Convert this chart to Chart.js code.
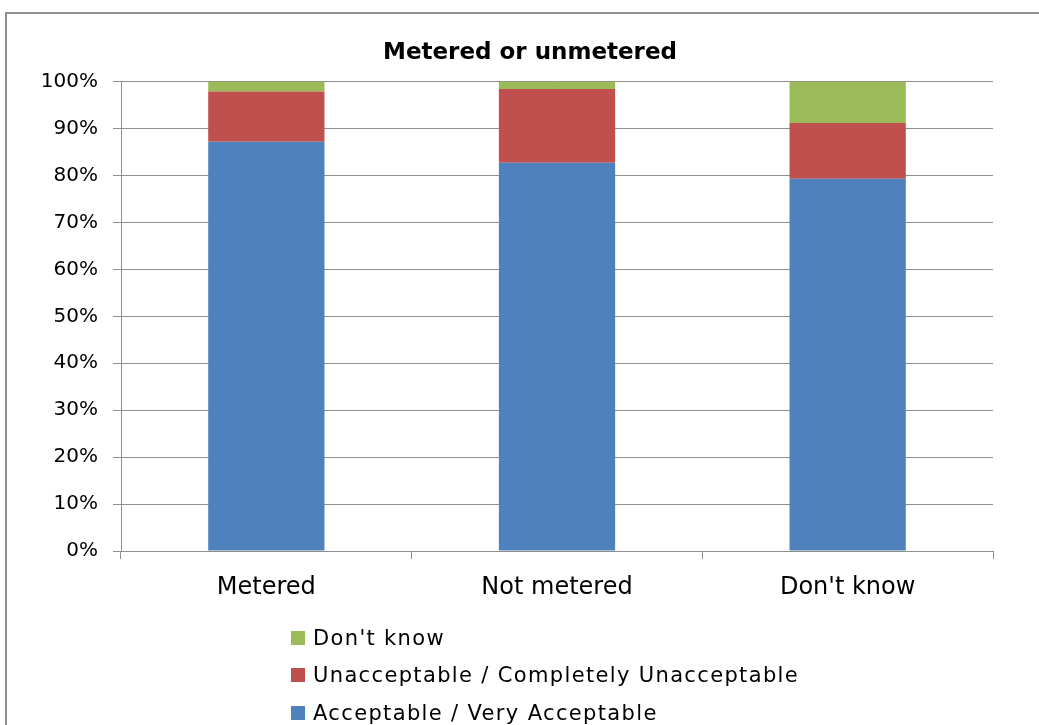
<!DOCTYPE html>
<html>
<head>
<meta charset="utf-8">
<script src="https://cdn.jsdelivr.net/npm/chart.js@4/dist/chart.umd.min.js"></script>
<style>
  html, body { margin: 0; padding: 0; background: #fff; overflow: hidden; }
  #wrap { position: relative; width: 1039px; height: 725px; overflow: hidden; }
  #frame { position: absolute; left: 5px; top: 12px; width: 1100px; height: 800px;
           border: 2px solid #8e8e8e; box-sizing: border-box; }
  #chart { position: absolute; left: 0; top: 0; }
  #legend { position: absolute; left: 291px; top: 619px; font-family: 'DejaVu Sans';
            font-size: 21px; letter-spacing: 1.35px; color: #000; }
  .item { display: flex; align-items: center; height: 37.5px; white-space: nowrap; }
  .sw { width: 14px; height: 14px; margin-right: 8px; flex: none; }
</style>
</head>
<body>
<div id="wrap">
  <div id="frame"></div>
  <canvas id="chart" width="1039" height="725"></canvas>
  <div id="legend"></div>
</div>
<script>
// Share of responses (%) by metering status
const categories = ['Metered', 'Not metered', "Don't know"];
const acceptable = [87.2, 82.7, 79.3];
const unacceptable = [10.7, 15.7, 11.9];
const dontKnow = [2.1, 1.6, 8.8];
const yTicks = [0, 10, 20, 30, 40, 50, 60, 70, 80, 90, 100];

const seriesNames = ['Acceptable / Very Acceptable', 'Unacceptable / Completely Unacceptable', "Don't know"];
const seriesColors = ['#4F81BD', '#C0504D', '#9BBB59'];
const seriesValues = [acceptable, unacceptable, dontKnow];

const gridColor = '#8e8e8e';
const FONT = 'DejaVu Sans';

const datasets = seriesNames.map((name, i) => ({
  label: name,
  data: seriesValues[i],
  backgroundColor: seriesColors[i],
  borderWidth: 0,
  barPercentage: 0.4,
  categoryPercentage: 1.0
}));

const chart = new Chart(document.getElementById('chart'), {
  type: 'bar',
  data: { labels: categories, datasets },
  options: {
    responsive: false,
    animation: false,
    layout: { padding: { top: 38, left: 21, right: 0, bottom: 0 } },
    plugins: {
      legend: { display: false },
      tooltip: { enabled: false },
      title: {
        display: true,
        text: 'Metered or unmetered',
        color: '#000',
        font: { family: FONT, size: 23, weight: 'bold' },
        padding: { top: 1, bottom: 15 }
      }
    },
    scales: {
      x: {
        stacked: true,
        grid: { offset: true, drawOnChartArea: false, drawTicks: true, tickLength: 8, color: gridColor },
        border: { color: gridColor, width: 1 },
        ticks: { color: '#000', font: { family: FONT, size: 24 }, padding: 14 },
        afterFit: s => { s.height = 174; }
      },
      y: {
        stacked: true,
        min: 0,
        max: 100,
        afterBuildTicks: s => { s.ticks = yTicks.map(v => ({ value: v })); },
        grid: { color: gridColor, tickLength: 8 },
        border: { color: gridColor, width: 1 },
        ticks: { color: '#000', font: { family: FONT, size: 20 }, padding: 15,
                 callback: v => v + '%' },
        afterFit: s => { s.width = 100; }
      },
      // blank margin to the right of the plot
      yRight: {
        position: 'right',
        min: 0,
        max: 100,
        grid: { display: false },
        border: { display: false },
        ticks: { display: false },
        afterFit: s => { s.width = 46; }
      }
    }
  }
});

// Legend listed top-down in reverse stacking order
const legendEl = document.getElementById('legend');
chart.data.datasets.slice().reverse().forEach(ds => {
  const row = document.createElement('div');
  row.className = 'item';
  const sw = document.createElement('span');
  sw.className = 'sw';
  sw.style.background = ds.backgroundColor;
  const txt = document.createElement('span');
  txt.textContent = ds.label;
  row.appendChild(sw);
  row.appendChild(txt);
  legendEl.appendChild(row);
});
</script>
</body>
</html>
